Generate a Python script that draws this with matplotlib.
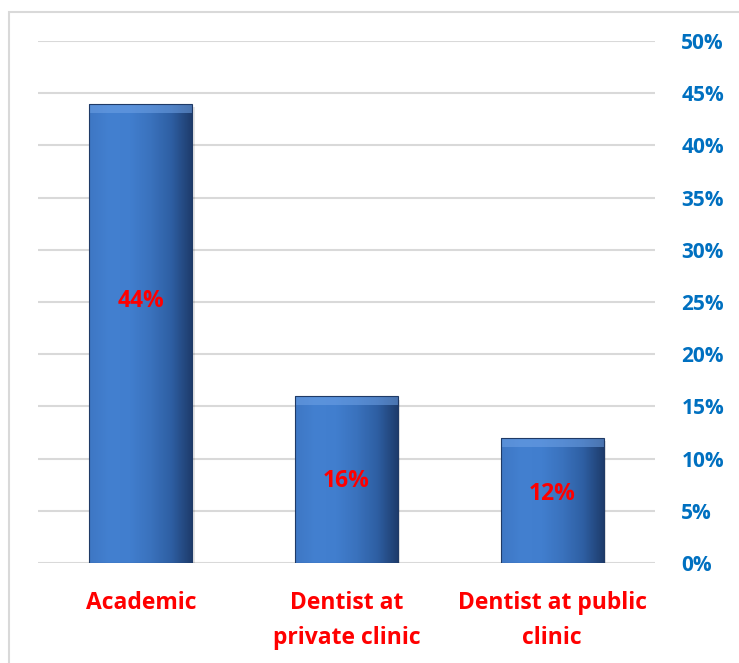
import numpy as np
import matplotlib.pyplot as plt
from matplotlib.patches import Rectangle
from matplotlib.colors import LinearSegmentedColormap

categories = ['Academic', 'Dentist at\nprivate clinic', 'Dentist at public\nclinic']
values = [44, 16, 12]
labels = ['44%', '16%', '12%']
label_y = [25.1, 7.85, 6.6]
yticks = [0, 5, 10, 15, 20, 25, 30, 35, 40, 45, 50]

plt.rcParams['font.family'] = ['Open Sans', 'DejaVu Sans']

fig = plt.figure(figsize=(7.39, 6.63), dpi=100)
ax = fig.add_axes([38/739, 1-563/663, 617/739, 522/663])

# outer border of the chart area
fig.patches.append(Rectangle((9/739, -0.01), 1.0, 1-12/663+0.01, transform=fig.transFigure,
                             fill=False, edgecolor='#D9D9D9', linewidth=1.5))

ax.set_xlim(-0.5, 2.5)
ax.set_ylim(0, 50)
for t in yticks:
    ax.axhline(t, color='#D9D9D9', linewidth=1.5, zorder=0)

cmap = LinearSegmentedColormap.from_list('bar', ['#3E77C4', '#4380D0', '#417ECE', '#3A72BD', '#2E5FA3', '#1E3C6C'])
grad = np.linspace(0, 1, 256).reshape(1, -1)
w = 0.5
bars = ax.bar(range(len(values)), values, width=w, color='#3E79C7', edgecolor='none', zorder=2)
for b, v in zip(bars, values):
    x0 = b.get_x()
    # soft shadow
    ax.add_patch(Rectangle((x0 + 0.012, -0.35), w, v, color='#000000', alpha=0.10, zorder=1, linewidth=0))
    im = ax.imshow(grad, extent=(x0, x0 + w, 0, v), aspect='auto', cmap=cmap, zorder=3)
    im.set_clip_path(b)
    # top bevel
    ax.add_patch(Rectangle((x0, v - 0.9), w, 0.9, color='#6FA2E6', alpha=0.55, zorder=4, linewidth=0))
    ax.add_patch(Rectangle((x0, 0), w, v, fill=False, edgecolor='#1F3A66', linewidth=0.8, zorder=5))

for i, (txt, y) in enumerate(zip(labels, label_y)):
    ax.text(i, y, txt, ha='center', va='center', color='#FF0000', fontsize=16.5, fontweight='bold', zorder=6)

ax.yaxis.tick_right()
ax.set_yticks(yticks)
ax.set_yticklabels([f'{t}%' for t in yticks], color='#0070C0', fontsize=15, fontweight='bold')
ax.tick_params(axis='y', length=0, pad=19)
ax.set_xticks(range(len(categories)))
ax.set_xticklabels(categories, color='#FF0000', fontsize=16.5, fontweight='bold', linespacing=1.65)
ax.tick_params(axis='x', length=0, pad=20)
for s in ax.spines.values():
    s.set_visible(False)

fig.savefig('out.png', dpi=100)
